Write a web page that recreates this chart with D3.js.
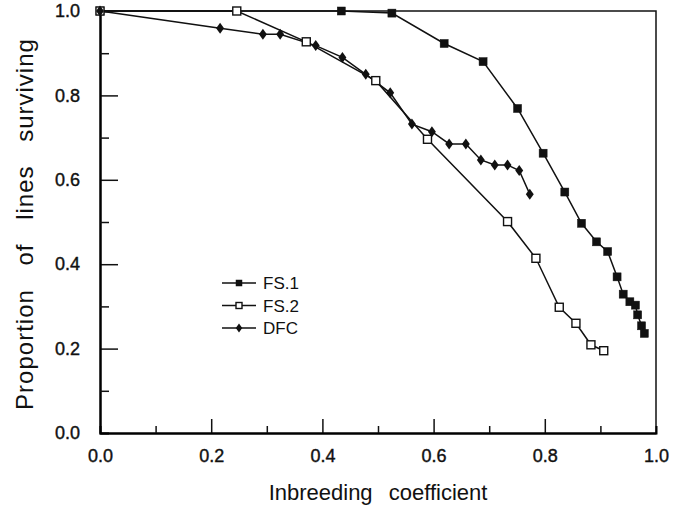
<!DOCTYPE html>
<html>
<head>
<meta charset="utf-8">
<script src="https://cdn.jsdelivr.net/npm/d3@7"></script>
<style>
	body { margin: 0; background: #fff; }
	text { font-family: 'Liberation Sans', Arial, sans-serif; fill: #111; }
</style>
</head>
<body>
<script>
// inbreeding coefficient (x) and proportion of lines surviving (y)
const fs1X = [0, 0.434, 0.525, 0.619, 0.689, 0.751, 0.797, 0.836, 0.866, 0.893, 0.913, 0.930, 0.941, 0.953, 0.963, 0.967, 0.974, 0.979]
const fs1Y = [1, 1, 0.995, 0.923, 0.880, 0.769, 0.663, 0.571, 0.497, 0.453, 0.430, 0.370, 0.329, 0.311, 0.303, 0.280, 0.254, 0.236]

const fs2X = [0, 0.246, 0.371, 0.496, 0.589, 0.733, 0.784, 0.826, 0.856, 0.883, 0.906]
const fs2Y = [1, 1, 0.927, 0.835, 0.696, 0.501, 0.414, 0.298, 0.260, 0.209, 0.195]

const dfcX = [0, 0.216, 0.293, 0.324, 0.388, 0.436, 0.478, 0.522, 0.561, 0.597, 0.628, 0.658, 0.685, 0.710, 0.733, 0.754, 0.773]
const dfcY = [1, 0.959, 0.945, 0.945, 0.918, 0.890, 0.850, 0.806, 0.732, 0.714, 0.685, 0.685, 0.647, 0.635, 0.635, 0.622, 0.566]

const seriesNames = ['FS.1', 'FS.2', 'DFC']
const majorTicks = [0, 0.2, 0.4, 0.6, 0.8, 1.0]
const minorTicks = [0.1, 0.3, 0.5, 0.7, 0.9]
const xTitle = 'Inbreeding coefficient'
const yTitle = 'Proportion of lines surviving'

const width = 674
const height = 510

const x = d3.scaleLinear().domain([0, 1]).range([100, 656])
const y = d3.scaleLinear().domain([0, 1]).range([433, 11])

const svg = d3.select('body')
	.append('svg')
	.attr('width', width)
	.attr('height', height)

const zip = (xs, ys) => xs.map((v, i) => ({ x: v, y: ys[i] }))
const series = [
	{ name: seriesNames[0], data: zip(fs1X, fs1Y), shape: 'fsq' },
	{ name: seriesNames[1], data: zip(fs2X, fs2Y), shape: 'osq' },
	{ name: seriesNames[2], data: zip(dfcX, dfcY), shape: 'dia' }
]

// frame: top and right
svg.append('path')
	.attr('d', `M${x(0)},${y(1)}H${x(1)}V${y(0)}`)
	.attr('fill', 'none')
	.attr('stroke', '#111')
	.attr('stroke-width', 1.5)

// x axis
const xAxis = svg.append('g')
	.attr('transform', `translate(0,${y(0)})`)
	.call(d3.axisBottom(x).tickValues(majorTicks).tickSize(-14).tickSizeOuter(0).tickPadding(16).tickFormat(d3.format('.1f')))
xAxis.append('g').call(d3.axisBottom(x).tickValues(minorTicks).tickSize(-7).tickFormat(''))
xAxis.selectAll('.domain').attr('stroke-width', 2)

// y axis
const yAxis = svg.append('g')
	.attr('transform', `translate(${x(0)},0)`)
	.call(d3.axisLeft(y).tickValues(majorTicks).tickSize(-18).tickSizeOuter(0).tickPadding(20).tickFormat(d3.format('.1f')))
yAxis.append('g').call(d3.axisLeft(y).tickValues(minorTicks).tickSize(-9).tickFormat(''))
yAxis.selectAll('.domain').attr('stroke-width', 2)

svg.selectAll('.tick line').attr('stroke', '#111').attr('stroke-width', 1.5)
svg.selectAll('.tick text')
	.style('font-family', "'Liberation Sans', Arial, sans-serif")
	.style('font-size', '18px')
	.attr('fill', '#111')
	.attr('stroke', '#111')
	.attr('stroke-width', 0.4)
xAxis.selectAll('.tick line').filter(d => d === 0 || d === 1).remove()
yAxis.selectAll('.tick line').filter(d => d === 0 || d === 1).remove()

// axis titles
svg.append('text')
	.attr('x', 378)
	.attr('y', 500)
	.attr('text-anchor', 'middle')
	.style('font-size', '22px')
	.style('word-spacing', '10px')
	.text(xTitle)

svg.append('text')
	.attr('transform', 'translate(33,224) rotate(-90)')
	.attr('text-anchor', 'middle')
	.style('font-size', '24px')
	.style('word-spacing', '16px')
	.style('letter-spacing', '1px')
	.text(yTitle)

const line = d3.line().x(d => x(d.x)).y(d => y(d.y))

const drawMarker = (sel, shape, s) => {
	if (shape === 'dia') {
		sel.append('path')
			.attr('d', `M0,${-s / 2}L${s * 0.36},0L0,${s / 2}L${-s * 0.36},0Z`)
			.attr('fill', '#111')
	} else {
		sel.append('rect')
			.attr('x', -s / 2)
			.attr('y', -s / 2)
			.attr('width', s)
			.attr('height', s)
			.attr('fill', shape === 'fsq' ? '#111' : '#fff')
			.attr('stroke', '#111')
			.attr('stroke-width', shape === 'fsq' ? 0.5 : 1.4)
	}
}

series.forEach(s => {
	svg.append('path')
		.datum(s.data)
		.attr('d', line)
		.attr('fill', 'none')
		.attr('stroke', '#111')
		.attr('stroke-width', 1.5)
})

series.forEach(s => {
	svg.append('g')
		.selectAll('g')
		.data(s.data)
		.enter()
		.append('g')
		.attr('transform', d => `translate(${x(d.x)},${y(d.y)})`)
		.each(function () { drawMarker(d3.select(this), s.shape, s.shape === 'dia' ? 11 : 8) })
})

// legend
const legend = svg.append('g')
	.attr('transform', 'translate(222,283)')

series.forEach((s, i) => {
	const row = legend.append('g').attr('transform', `translate(0,${i * 22.5})`)
	row.append('line')
		.attr('x1', 0)
		.attr('x2', 34)
		.attr('stroke', '#111')
		.attr('stroke-width', 1.5)
	const m = row.append('g').attr('transform', 'translate(17,0)')
	drawMarker(m, s.shape, s.shape === 'dia' ? 9 : 6)
	row.append('text')
		.attr('x', 41)
		.attr('y', 6)
		.style('font-size', '17px')
		.text(s.name)
})
</script>
</body>
</html>
